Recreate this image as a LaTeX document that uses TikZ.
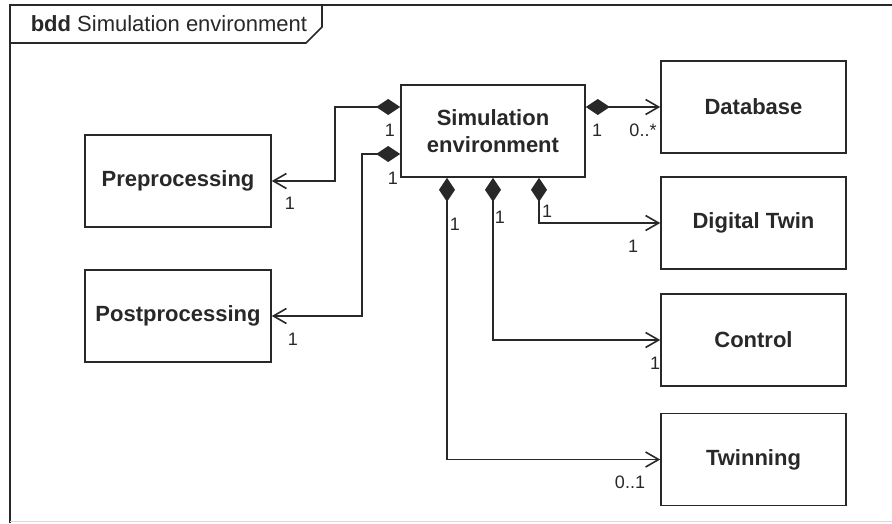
\documentclass[tikz,border=0pt]{standalone}
\usepackage{fontspec}
\setmainfont{Liberation Sans}
\usetikzlibrary{arrows.meta, positioning}
\definecolor{ink}{RGB}{40,40,40}

\begin{document}
\begin{tikzpicture}[x=1pt, y=-1pt, line width=1.6pt, ink,
  blk/.style={draw, minimum width=185pt, minimum height=92pt, align=center,
    font=\fontsize{22}{27}\selectfont\bfseries},
  mult/.style={font=\fontsize{18}{20}\selectfont, inner sep=0pt},
  comp/.style={{Diamond[length=24pt, width=16pt]}-{Straight Barb[length=13pt, width=15pt, line width=1.6pt]}}]
\useasboundingbox (0,0) rectangle (892,523);
% frame and tab
\draw (10,523) -- (10,5) -- (892,5);
\draw (10,43) -- (306,43) -- (322,27) -- (322,5);
\draw[black!15, line width=1pt] (10,521) -- (892,521);
\node[anchor=west, inner sep=0pt, font=\fontsize{22}{26}\selectfont] (title) at (30,24) {\textbf{bdd} Simulation environment};
% blocks
\node[blk, minimum width=184pt] (sim) at (493,131) {Simulation\\environment};
\node[blk] (db) at (753.5,107) {Database};
\node[blk] (dt) at (753.5,223) {Digital Twin};
\node[blk] (ctrl) at (753.5,340) {Control};
\node[blk] (twin) at (753.5,459.5) {Twinning};
\node[blk, minimum width=186pt] (pre) at (178,181) {Preprocessing};
\node[blk, minimum width=186pt] (post) at (178,316) {Postprocessing};
% compositions
\draw[comp] ([yshift=24pt]sim.west) -- ++(-65,0) |- (pre.east);
\draw[comp] ([yshift=-23pt]sim.west) -- ++(-38,0) |- (post.east);
\draw[comp] ([yshift=24pt]sim.east) -- (db.west);
\draw[comp] ([xshift=46pt]sim.south) |- (dt.west);
\draw[comp] (sim.south) |- (ctrl.west);
\draw[comp] ([xshift=-46pt]sim.south) |- (twin.west);
% multiplicities
\node[mult] (m1) at (390,130) {1};
\node[mult] (m2) at (290,203) {1};
\node[mult] (m3) at (393,178) {1};
\node[mult] (m4) at (293,339) {1};
\node[mult] (m5) at (597,130) {1};
\node[mult] (m6) at (643,130) {0..*};
\node[mult] (m7) at (547,211) {1};
\node[mult] (m8) at (633,246) {1};
\node[mult] (m9) at (500,217) {1};
\node[mult] (m10) at (655,363) {1};
\node[mult] (m11) at (455,224) {1};
\node[mult] (m12) at (630,482) {0..1};
\end{tikzpicture}
\end{document}
